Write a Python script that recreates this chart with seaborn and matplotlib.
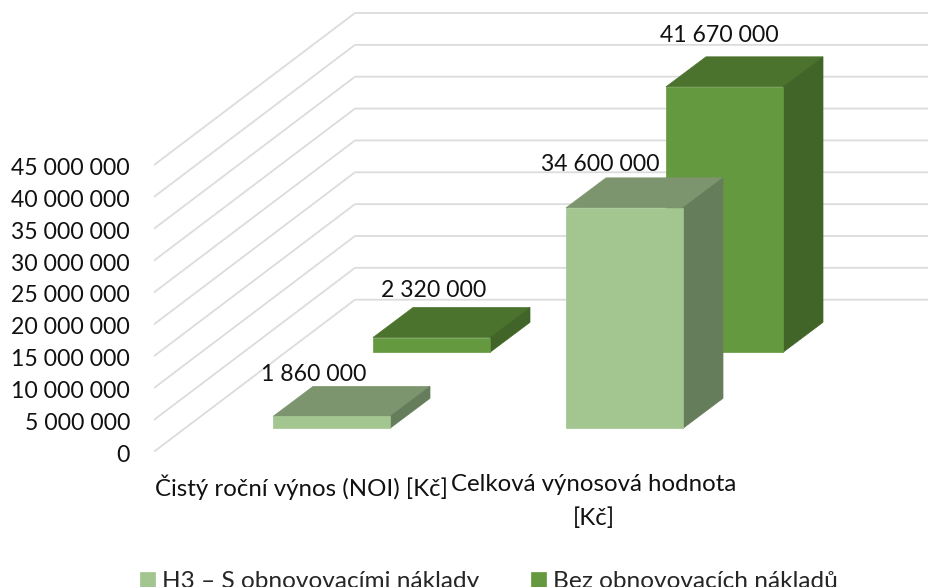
import matplotlib
matplotlib.use("Agg")
import matplotlib.pyplot as plt
import seaborn as sns
import pandas as pd
from matplotlib.patches import Polygon
from matplotlib.transforms import ScaledTranslation

# ---- data ----
categories = ["Čistý roční výnos (NOI) [Kč]", "Celková výnosová hodnota\n[Kč]"]
series_names = ["H3 – S obnovovacími náklady", "Bez obnovovacích nákladů"]
h3_values = [1860000, 34600000]
bez_values = [2320000, 41670000]
y_ticks = [0, 5000000, 10000000, 15000000, 20000000, 25000000, 30000000, 35000000, 40000000, 45000000]
tick_labels = ["0", "5 000 000", "10 000 000", "15 000 000", "20 000 000", "25 000 000",
               "30 000 000", "35 000 000", "40 000 000", "45 000 000"]
value_labels_h3 = ["1 860 000", "34 600 000"]
value_labels_bez = ["2 320 000", "41 670 000"]

# ---- layout (pixels of the 929x587 canvas) ----
W, H = 929, 587
X0, Y0 = 154, 451.7            # front corner of the floor
PX_PER_VALUE = 286.7 / 45000000
WALL_DX, WALL_DY = 201, 152    # depth of the whole box
BAR_DX, BAR_DY = 40, 30        # depth of one bar
CAT_X = [301, 594]
BAR_W = 117
FS_NUM = 16.6
FS_CAT = 17.3
FS_LEG = 17.55

sns.set_theme(style="white")
plt.rcParams["font.family"] = ["Lato", "DejaVu Sans"]

fig = plt.figure(figsize=(W / 100, H / 100), dpi=100, facecolor="white")
ax = fig.add_axes([X0 / W, (H - Y0) / H, (W - X0) / W, Y0 / H])


def v(px):
    return px / PX_PER_VALUE


# gridlines: floor-to-wall diagonal then back wall
for t in y_ticks:
    ax.plot([X0, X0 + WALL_DX, W + 5],
            [t, t + v(WALL_DY), t + v(WALL_DY)],
            color="#DCDCDC", lw=1.3, zorder=1, solid_joinstyle="miter")


def draw_series(values, names, shift, lift, front, top, side, z, labels, offsets):
    xs = [c + shift for c in CAT_X]
    df = pd.DataFrame({"x": xs, "value": values, "name": names})
    n0 = len(ax.patches)
    sns.barplot(data=df, x="x", y="value", native_scale=True, ax=ax,
                color=front, saturation=1, errorbar=None, legend=False,
                width=BAR_W / (xs[1] - xs[0]), bottom=v(lift),
                edgecolor=front, linewidth=0.5, zorder=z + 0.2)
    handle = ax.patches[n0]
    for x, val, txt, (ox, oy) in zip(xs, values, labels, offsets):
        left, right = x - BAR_W / 2, x + BAR_W / 2
        b, t = v(lift), v(lift) + val
        ax.add_patch(Polygon([(left, t), (right, t), (right + BAR_DX, t + v(BAR_DY)),
                              (left + BAR_DX, t + v(BAR_DY))],
                             closed=True, fc=top, ec=top, lw=0.5, zorder=z))
        ax.add_patch(Polygon([(right, b), (right, t), (right + BAR_DX, t + v(BAR_DY)),
                              (right + BAR_DX, b + v(BAR_DY))],
                             closed=True, fc=side, ec=side, lw=0.5, zorder=z))
        ax.annotate(txt, (x, t + v(BAR_DY)), xytext=(ox * 0.72, oy * 0.72),
                    textcoords="offset points", ha="center", va="center",
                    fontsize=FS_NUM, color="#111111", zorder=10)
    return handle


h_bez = draw_series(bez_values, categories, 130.5, 99.4, "#64993F", "#4B732D", "#416529",
                    3, value_labels_bez, [(2.5, 17.5), (-5.5, 21.5)])
h_h3 = draw_series(h3_values, categories, 30.5, 23.4, "#A3C58F", "#7C956F", "#667D5B",
                   5, value_labels_h3, [(-18, 12), (-24, 13.5)])

ax.set_xlim(X0, W)
ax.set_ylim(0, v(Y0))
ax.set_xlabel("")
ax.set_ylabel("")
ax.set_xticks(CAT_X)
ax.set_xticklabels(categories, fontsize=FS_CAT, color="#111111", linespacing=1.7)
ax.set_yticks(y_ticks)
ax.set_yticklabels(tick_labels, fontsize=FS_NUM, color="#111111")
ax.tick_params(axis="x", length=0, pad=22.5 * 0.72)
ax.tick_params(axis="y", length=0, pad=24 * 0.72)
down = ScaledTranslation(0, -1.5 / 100, fig.dpi_scale_trans)
for lab in ax.get_yticklabels():
    lab.set_transform(lab.get_transform() + down)
ax.patch.set_alpha(0)
sns.despine(ax=ax, left=True, bottom=True)

fig.legend([h_h3, h_bez], series_names, loc="lower left", ncol=2,
           bbox_to_anchor=(140 / W, -5 / H), frameon=False, fontsize=FS_LEG,
           handlelength=0.62, handleheight=0.62, handletextpad=0.27, columnspacing=2.15,
           borderpad=0, borderaxespad=0)

fig.savefig("out.png", dpi=100, facecolor="white")
